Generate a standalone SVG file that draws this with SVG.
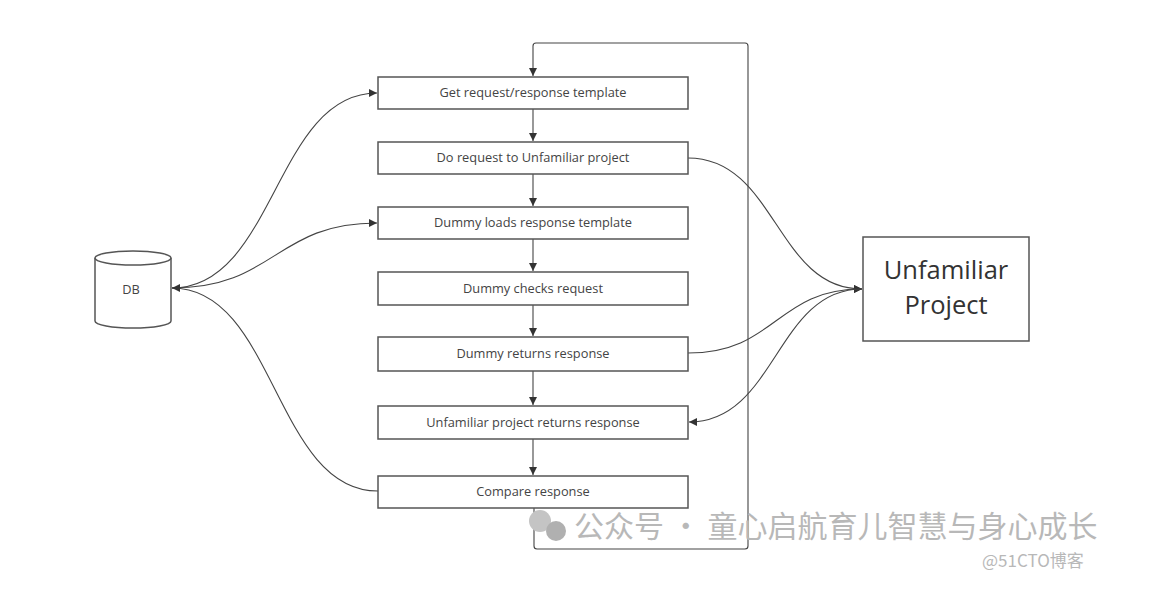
<svg xmlns="http://www.w3.org/2000/svg" width="1153" height="612" viewBox="0 0 1153 612">
<defs>
<style>
.box{fill:#fff;stroke:#555;stroke-width:1.5}
.lbl{font-family:"Open Sans","Noto Sans","Liberation Sans",sans-serif;font-size:12.8px;fill:#444;text-anchor:middle;dominant-baseline:central}
.big{font-family:"Open Sans","Noto Sans","Liberation Sans",sans-serif;font-size:25.5px;fill:#333;text-anchor:middle;dominant-baseline:central}
.ln{fill:none;stroke:#444;stroke-width:1.1}
.wm{font-family:"Noto Sans CJK SC","Noto Sans",sans-serif;fill:#b8b8b8}
</style>
<marker id="ah" viewBox="0 0 10 10" refX="10" refY="5" markerWidth="8" markerHeight="8" markerUnits="userSpaceOnUse" orient="auto">
<path d="M0,0 L10,5 L0,10 z" fill="#333"/>
</marker>
</defs>
<rect width="1153" height="612" fill="#fff"/>

<g id="connectors">
<path class="ln" d="M533,109 V141" marker-end="url(#ah)"/>
<path class="ln" d="M533,174 V206" marker-end="url(#ah)"/>
<path class="ln" d="M533,239 V271" marker-end="url(#ah)"/>
<path class="ln" d="M533,305 V336" marker-end="url(#ah)"/>
<path class="ln" d="M533,371 V405" marker-end="url(#ah)"/>
<path class="ln" d="M533,439 V475" marker-end="url(#ah)"/>
<path class="ln" d="M534,508 V546 Q534,549 537,549 H745 Q748,549 748,546 V46 Q748,43 745,43 H536 Q533,43 533,46 V76" marker-end="url(#ah)"/>
<path class="ln" d="M172,288 C275,288 275,93 377,93" marker-end="url(#ah)"/>
<path class="ln" d="M172,288 C275,288 275,223 377,223" marker-end="url(#ah)"/>
<path class="ln" d="M378,491 C275,491 275,288 172,288" marker-end="url(#ah)"/>
<path class="ln" d="M688,158 C776,158 776,289 862,289" marker-end="url(#ah)"/>
<path class="ln" d="M688,353 C776,353 776,289 862,289" marker-end="url(#ah)"/>
<path class="ln" d="M862,289 C776,289 776,422 689,422" marker-end="url(#ah)"/>
</g>

<g id="n1"><rect class="box" x="378" y="77" width="310" height="32"/><text class="lbl" x="533" y="92">Get request/response template</text></g>
<g id="n2"><rect class="box" x="378" y="142" width="310" height="32"/><text class="lbl" x="533" y="157">Do request to Unfamiliar project</text></g>
<g id="n3"><rect class="box" x="378" y="207" width="310" height="32"/><text class="lbl" x="533" y="222">Dummy loads response template</text></g>
<g id="n4"><rect class="box" x="378" y="272" width="310" height="33"/><text class="lbl" x="533" y="288">Dummy checks request</text></g>
<g id="n5"><rect class="box" x="378" y="337" width="310" height="34"/><text class="lbl" x="533" y="353">Dummy returns response</text></g>
<g id="n6"><rect class="box" x="378" y="406" width="310" height="33"/><text class="lbl" x="533" y="422">Unfamiliar project returns response</text></g>
<g id="n7"><rect class="box" x="378" y="476" width="310" height="32"/><text class="lbl" x="533" y="491">Compare response</text></g>

<g id="db">
<path class="box" d="M95,258 V321 A38,7 0 0 0 171,321 V258"/>
<ellipse class="box" cx="133" cy="258" rx="38" ry="7"/>
<text class="lbl" x="131" y="289">DB</text>
</g>

<g id="project">
<rect class="box" x="863" y="237" width="166" height="104"/>
<text class="big" x="946" y="269">Unfamiliar</text>
<text class="big" x="946" y="304">Project</text>
</g>

<g id="watermark">
<circle cx="540" cy="521" r="11" fill="#c4c4c4"/>
<circle cx="556" cy="531" r="10" fill="#b0b0b0"/>
<text class="wm" x="574" y="537" font-size="30">公众号 · 童心启航育儿智慧与身心成长</text>
<text class="wm" x="982" y="567" font-size="17" fill="#d0d0d0">@51CTO博客</text>
</g>
</svg>
